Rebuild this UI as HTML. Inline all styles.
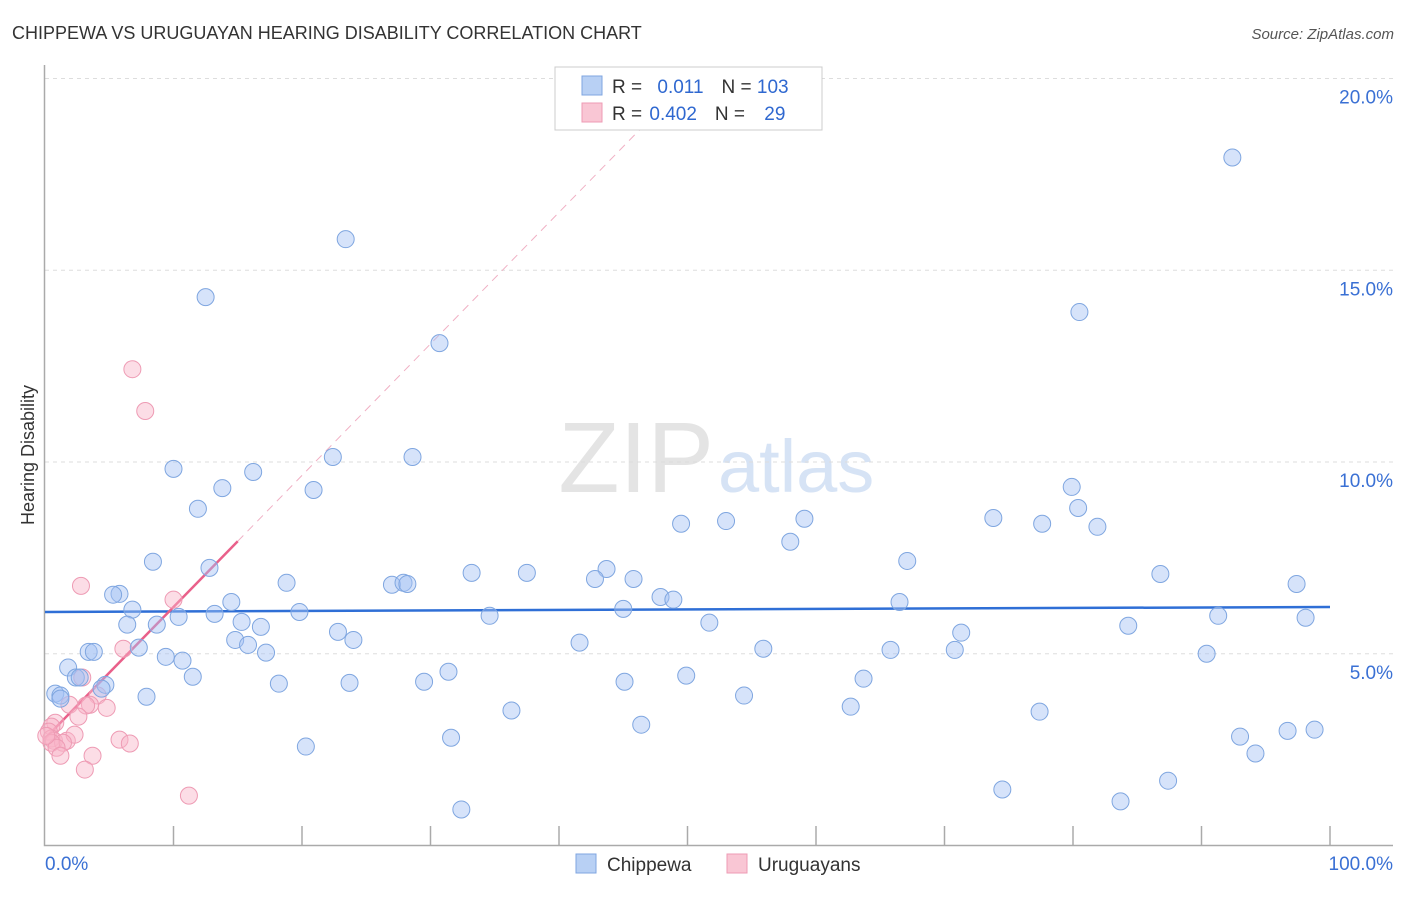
<!DOCTYPE html>
<html><head><meta charset="utf-8">
<style>
body{margin:0;background:#fff;font-family:"Liberation Sans",sans-serif;}
svg text{font-family:"Liberation Sans",sans-serif;}
</style></head>
<body>
<svg id="chart" width="1406" height="892" xmlns="http://www.w3.org/2000/svg">
<text x="12" y="39" font-size="18" fill="#333">CHIPPEWA VS URUGUAYAN HEARING DISABILITY CORRELATION CHART</text>
<text x="1394" y="39" font-size="15" fill="#555" font-style="italic" text-anchor="end">Source: ZipAtlas.com</text>
<text x="714" y="492" font-size="100" fill="#e4e4e4" text-anchor="end" font-family="Liberation Serif">ZIP</text>
<text x="718" y="492" font-size="74" fill="#d6e3f5">atlas</text>
<text transform="translate(34,455) rotate(-90)" font-size="18" fill="#333" text-anchor="middle">Hearing Disability</text>
<g id="grid"></g><g id="axes"></g><g id="trend"></g><g id="pts"></g>
<g>
<rect x="555" y="67" width="267" height="63" fill="#fff" stroke="#ccc"/>
<rect x="582" y="76" width="20" height="19" fill="#b8d0f4" stroke="#7fa6e0"/>
<rect x="582" y="103" width="20" height="19" fill="#f9c6d4" stroke="#ee9bb4"/>
<text x="612" y="93" font-size="19" fill="#333">R = <tspan fill="#2f68d0" dx="10">0.011</tspan><tspan fill="#333" dx="18">N = </tspan><tspan fill="#2f68d0">103</tspan></text>
<text x="612" y="120" font-size="19" fill="#333">R = <tspan fill="#2f68d0" dx="2">0.402</tspan><tspan fill="#333" dx="18">N = </tspan><tspan fill="#2f68d0" dx="14">29</tspan></text>
</g>
<g>
<rect x="576" y="854" width="20" height="19" fill="#b8d0f4" stroke="#7fa6e0"/>
<text x="607" y="871" font-size="19" fill="#333">Chippewa</text>
<rect x="727" y="854" width="20" height="19" fill="#f9c6d4" stroke="#ee9bb4"/>
<text x="758" y="871" font-size="19" fill="#333">Uruguayans</text>
</g>
</svg>
<script>
const blueX=[92.4,23.4,12.5,80.5,30.7,10.0,16.2,22.4,28.6,13.8,20.9,11.9,79.9,80.4,73.8,77.6,81.9,49.5,53.0,59.1,58.0,8.4,12.8,67.1,43.7,33.2,37.5,42.8,45.8,86.8,97.4,18.8,27.0,27.9,28.2,5.8,5.3,6.8,14.5,47.9,48.9,66.5,45.0,19.8,13.2,10.4,34.6,91.3,98.1,6.4,8.7,15.3,16.8,51.7,22.8,71.3,84.3,14.8,24.0,15.8,41.6,3.4,3.8,7.3,17.2,9.4,10.7,55.9,65.8,70.8,90.4,1.8,31.4,11.5,49.9,63.7,2.4,2.7,23.7,18.2,29.5,45.1,4.7,4.4,0.8,1.2,7.9,54.4,62.7,36.3,77.4,46.4,93.0,31.6,96.7,98.8,20.3,94.2,87.4,74.5,83.7,32.4,1.2];
const blueY=[17.94,15.81,14.30,13.91,13.10,9.82,9.74,10.13,10.13,9.32,9.27,8.78,9.35,8.80,8.54,8.39,8.31,8.39,8.46,8.52,7.92,7.40,7.24,7.42,7.21,7.11,7.11,6.95,6.95,7.08,6.82,6.85,6.80,6.85,6.82,6.56,6.54,6.15,6.35,6.48,6.41,6.35,6.17,6.09,6.04,5.96,5.99,5.99,5.94,5.76,5.76,5.83,5.70,5.81,5.57,5.55,5.73,5.36,5.36,5.23,5.29,5.05,5.05,5.16,5.03,4.92,4.82,5.13,5.10,5.10,5.00,4.64,4.53,4.40,4.43,4.35,4.38,4.38,4.24,4.22,4.27,4.27,4.19,4.09,3.96,3.91,3.88,3.91,3.62,3.52,3.49,3.15,2.84,2.81,2.99,3.02,2.58,2.40,1.69,1.46,1.15,0.94,3.83];
const pinkX=[6.8,7.8,2.8,10.0,6.1,2.9,1.9,4.1,3.5,3.2,4.8,2.6,0.8,0.5,0.3,0.5,0.7,1.7,2.3,1.4,0.5,0.9,1.2,5.8,6.6,3.7,3.1,11.2,0.1];
const pinkY=[12.42,11.33,6.77,6.41,5.13,4.38,3.67,3.91,3.67,3.65,3.59,3.36,3.20,3.10,2.97,2.79,2.73,2.73,2.89,2.68,2.68,2.55,2.34,2.76,2.66,2.34,1.98,1.30,2.86];
const yTicks=[5,10,15,20];
const blueTrend=[6.09,6.22];
const pinkTrend=[2.79,0.343];
const NS="http://www.w3.org/2000/svg";
const sx=v=>45+v*12.85, sy=v=>845.5-v*38.35;
function mk(tag,parent,attrs){const e=document.createElementNS(NS,tag);for(const k in attrs)e.setAttribute(k,attrs[k]);document.getElementById(parent).appendChild(e);return e;}
yTicks.forEach(t=>{
 const l=mk('line','grid',{x1:45,x2:1393,y1:sy(t),y2:sy(t),stroke:'#ddd','stroke-dasharray':'4,4'});
 
 
 const tx=mk('text','grid',{x:1393,y:sy(t)+25,'font-size':19,fill:'#3a70d4','text-anchor':'end'});
 tx.textContent=t.toFixed(1)+'%';
 
 
});
const ax=mk('path','axes',{d:'M44.5,65V845.5H1393',stroke:'#aaa',fill:'none','stroke-width':1.5});


for(let i=1;i<=10;i++){const t=mk('line','axes',{x1:sx(i*10),x2:sx(i*10),y1:826,y2:845,stroke:'#aaa','stroke-width':1.5});
 
 }
const x0=mk('text','axes',{x:45,y:870,'font-size':19,fill:'#3a70d4'});x0.textContent='0.0%';


const x1=mk('text','axes',{x:1393,y:870,'font-size':19,fill:'#3a70d4','text-anchor':'end'});x1.textContent='100.0%';


pinkX.forEach((x,i)=>{const c=mk('circle','pts',{cx:sx(x),cy:sy(pinkY[i]),r:8.5,fill:'rgba(248,180,200,0.45)',stroke:'#ee9bb4','stroke-width':1});
 
 });
blueX.forEach((x,i)=>{const c=mk('circle','pts',{cx:sx(x),cy:sy(blueY[i]),r:8.5,fill:'rgba(164,194,244,0.45)',stroke:'#7fa6e0','stroke-width':1});
 
 });
const bt=mk('line','trend',{x1:sx(0),y1:sy(blueTrend[0]),x2:sx(100),y2:sy(blueTrend[1]),stroke:'#2f6fd6','stroke-width':2.5});


const pd=mk('line','trend',{x1:sx(15),y1:sy(pinkTrend[0]+pinkTrend[1]*15),x2:sx(46.3),y2:sy(pinkTrend[0]+pinkTrend[1]*46.3),stroke:'#f0b0c4','stroke-width':1,'stroke-dasharray':'8,6'});


const pt=mk('line','trend',{x1:sx(0),y1:sy(pinkTrend[0]),x2:sx(15),y2:sy(pinkTrend[0]+pinkTrend[1]*15),stroke:'#e9608a','stroke-width':2.5});


</script>
</body></html>
